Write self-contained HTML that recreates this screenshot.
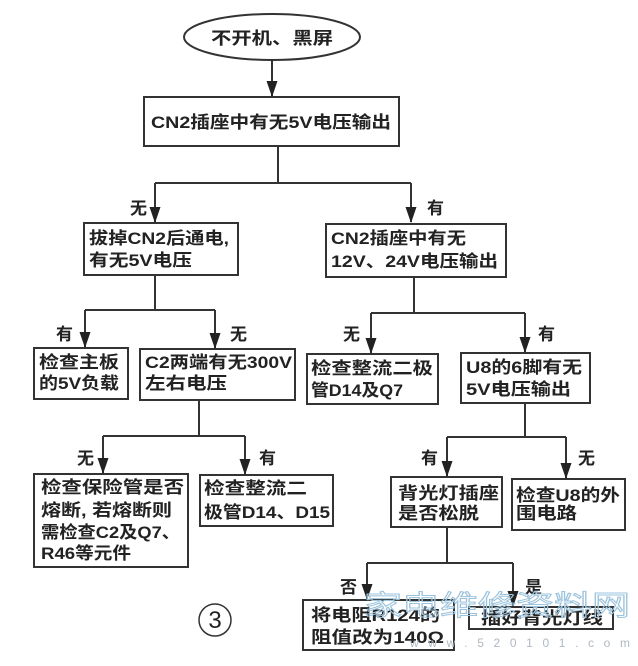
<!DOCTYPE html>
<html><head><meta charset="utf-8"><style>
html,body{margin:0;padding:0;background:#fff;}
svg{display:block;}
text{font-family:"Liberation Sans","Noto Sans CJK SC","WenQuanYi Zen Hei",sans-serif;font-size:17px;font-weight:bold;fill:#222;}
</style></head><body>
<svg width="638" height="666" viewBox="0 0 638 666" xmlns="http://www.w3.org/2000/svg">
<defs><marker id="a" markerWidth="16" markerHeight="12" refX="15" refY="5.5" orient="auto" markerUnits="userSpaceOnUse"><path d="M0,0 L16,5.5 L0,11 Z" fill="#222"/></marker></defs>
<g stroke="#333" stroke-width="2" fill="none">
<ellipse cx="272" cy="37" rx="88" ry="23"/>
<rect x="144" y="97" width="255" height="49"/>
<rect x="84" y="223" width="154" height="52"/>
<rect x="326" y="224" width="180" height="53"/>
<rect x="34" y="348" width="94" height="51"/>
<rect x="140" y="349" width="155" height="51"/>
<rect x="307" y="354" width="131" height="50"/>
<rect x="461" y="353" width="129" height="50"/>
<rect x="34" y="474" width="154" height="93"/>
<rect x="200" y="475" width="133" height="51"/>
<rect x="391" y="477" width="111" height="50"/>
<rect x="512" y="479" width="113" height="51"/>
<rect x="303" y="600" width="151" height="50"/>
<rect x="469" y="607" width="144" height="22"/>
<path d="M272 60 V96" marker-end="url(#a)"/>
<path d="M278 146 V183 M155 183 H411"/>
<path d="M155 183 V222" marker-end="url(#a)"/>
<path d="M411 183 V222" marker-end="url(#a)"/>
<path d="M155 275 V310 M85 310 H215"/>
<path d="M85 310 V347" marker-end="url(#a)"/>
<path d="M215 310 V348" marker-end="url(#a)"/>
<path d="M414 277 V313 M371 313 H525"/>
<path d="M371 313 V353" marker-end="url(#a)"/>
<path d="M525 313 V352" marker-end="url(#a)"/>
<path d="M199 400 V436 M103 436 H245"/>
<path d="M103 436 V473" marker-end="url(#a)"/>
<path d="M245 436 V474" marker-end="url(#a)"/>
<path d="M525 403 V437 M447 437 H566"/>
<path d="M447 437 V476" marker-end="url(#a)"/>
<path d="M566 437 V478" marker-end="url(#a)"/>
<path d="M447 527 V563 M367 563 H513"/>
<path d="M367 563 V599" marker-end="url(#a)"/>
<path d="M513 563 V606" marker-end="url(#a)"/>
<circle cx="215" cy="620" r="16" stroke-width="1.5"/>
</g>
<text x="215" y="628" style="font-size:24px;font-weight:normal" text-anchor="middle">3</text>
<text x="211" y="44" textLength="122" lengthAdjust="spacingAndGlyphs">不开机、黑屏</text>
<text x="151" y="128" textLength="240" lengthAdjust="spacingAndGlyphs">CN2插座中有无5V电压输出</text>
<text x="130" y="214">无</text><text x="427" y="214">有</text>
<text x="89" y="244" textLength="140" lengthAdjust="spacingAndGlyphs">拔掉CN2后通电,</text>
<text x="89" y="266" textLength="103" lengthAdjust="spacingAndGlyphs">有无5V电压</text>
<text x="331" y="244" textLength="135" lengthAdjust="spacingAndGlyphs">CN2插座中有无</text>
<text x="331" y="267" textLength="167" lengthAdjust="spacingAndGlyphs">12V、24V电压输出</text>
<text x="56" y="340">有</text><text x="230" y="340">无</text><text x="343" y="340">无</text><text x="538" y="340">有</text>
<text x="39" y="368" textLength="80" lengthAdjust="spacingAndGlyphs">检查主板</text>
<text x="39" y="389" textLength="80" lengthAdjust="spacingAndGlyphs">的5V负载</text>
<text x="145" y="368" textLength="147" lengthAdjust="spacingAndGlyphs">C2两端有无300V</text>
<text x="145" y="389" textLength="82" lengthAdjust="spacingAndGlyphs">左右电压</text>
<text x="311" y="374" textLength="122" lengthAdjust="spacingAndGlyphs">检查整流二极</text>
<text x="311" y="396" textLength="92" lengthAdjust="spacingAndGlyphs">管D14及Q7</text>
<text x="466" y="373" textLength="116" lengthAdjust="spacingAndGlyphs">U8的6脚有无</text>
<text x="466" y="395" textLength="105" lengthAdjust="spacingAndGlyphs">5V电压输出</text>
<text x="77" y="464">无</text><text x="259" y="464">有</text><text x="421" y="464">有</text><text x="578" y="464">无</text>
<text x="41" y="493" textLength="143" lengthAdjust="spacingAndGlyphs">检查保险管是否</text>
<text x="41" y="516" textLength="131" lengthAdjust="spacingAndGlyphs">熔断, 若熔断则</text>
<text x="41" y="538" textLength="139" lengthAdjust="spacingAndGlyphs">需检查C2及Q7、</text>
<text x="41" y="559" textLength="90" lengthAdjust="spacingAndGlyphs">R46等元件</text>
<text x="204" y="494" textLength="103" lengthAdjust="spacingAndGlyphs">检查整流二</text>
<text x="204" y="518" textLength="126" lengthAdjust="spacingAndGlyphs">极管D14、D15</text>
<text x="398" y="499" textLength="101" lengthAdjust="spacingAndGlyphs">背光灯插座</text>
<text x="398" y="519" textLength="81" lengthAdjust="spacingAndGlyphs">是否松脱</text>
<text x="516" y="501" textLength="104" lengthAdjust="spacingAndGlyphs">检查U8的外</text>
<text x="516" y="519" textLength="61" lengthAdjust="spacingAndGlyphs">围电路</text>
<text x="340" y="593">否</text><text x="525" y="593">是</text>
<text x="311" y="621" textLength="129" lengthAdjust="spacingAndGlyphs">将电阻R124的</text>
<text x="311" y="643" textLength="133" lengthAdjust="spacingAndGlyphs">阻值改为140Ω</text>
<text x="481" y="624" textLength="122" lengthAdjust="spacingAndGlyphs">插好背光灯线</text>
<text x="364" y="615" textLength="266" lengthAdjust="spacingAndGlyphs" style="font-size:28px;font-weight:normal;fill:none;stroke:#9cc3dc;stroke-width:1">家电维修资料网</text>
<text x="410" y="647" textLength="220" lengthAdjust="spacing" style="font-size:12px;font-weight:normal;fill:#b0b8c0">www.520101.com</text>
</svg>
</body></html>
